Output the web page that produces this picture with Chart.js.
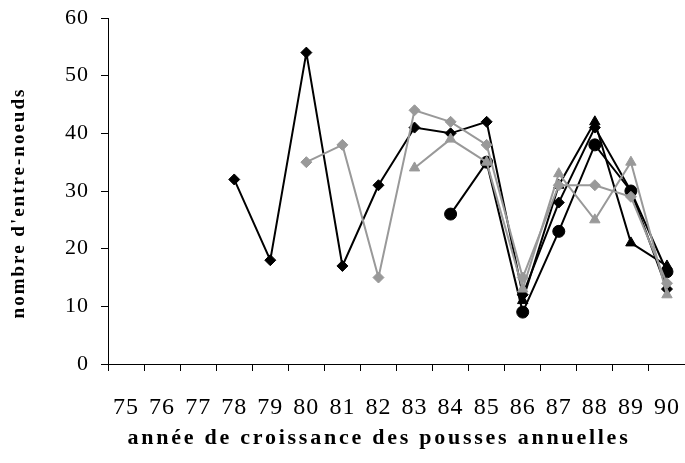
<!DOCTYPE html>
<html>
<head>
<meta charset="utf-8">
<script src="https://cdn.jsdelivr.net/npm/chart.js@4/dist/chart.umd.min.js"></script>
<style>
  html, body { margin: 0; padding: 0; background: #fff; overflow: hidden; }
  #wrap { width: 685px; height: 463px; position: relative; overflow: hidden; }
</style>
</head>
<body>
<div id="wrap"><canvas id="c" width="692" height="463"></canvas></div>
<script>
const years = ['75','76','77','78','79','80','81','82','83','84','85','86','87','88','89','90'];
const blackDiamond = [null,null,null,32,18,54,17,31,41,40,42,12,28,41,30,13];
const grayDiamond  = [null,null,null,null,null,35,38,15,44,42,38,15,31,31,29,14];
const grayTriangle = [null,null,null,null,null,null,null,null,34,39,35,13,33,25,35,12];
const blackCircle  = [null,null,null,null,null,null,null,null,null,26,35,9,23,38,30,16];
const blackTriangle= [null,null,null,null,null,null,null,null,null,null,null,11,31,42,21,17];
const yTicks = [0,10,20,30,40,50,60];
const xTitle = 'année de croissance des pousses annuelles';
const yTitle = "nombre d'entre-noeuds";

const BLACK = '#000000';
const GRAY = '#999999';

function ds(label, data, color, style, radius, order) {
  return {
    label, data,
    borderColor: color, backgroundColor: color,
    pointBackgroundColor: color, pointBorderColor: color,
    borderWidth: 2, pointStyle: style, pointRadius: radius, pointHoverRadius: radius,
    pointBorderWidth: 1, tension: 0, spanGaps: false, order
  };
}

const titlesPlugin = {
  id: 'titles',
  beforeDraw(chart) { chart.ctx.letterSpacing = '1px'; },
  afterDraw(chart) {
    const ctx = chart.ctx;
    ctx.save();
    ctx.fillStyle = '#000';
    ctx.font = 'bold 22px "Liberation Serif"';
    ctx.letterSpacing = '2.75px';
    ctx.textAlign = 'center';
    ctx.textBaseline = 'middle';
    ctx.fillText(xTitle, 379, 438);
    ctx.translate(19, 203);
    ctx.rotate(-Math.PI / 2);
    ctx.font = 'bold 19px "Liberation Serif"';
    ctx.letterSpacing = '2px';
    ctx.fillText(yTitle, 0, 0);
    ctx.restore();
    ctx.letterSpacing = '0px';
  }
};

new Chart(document.getElementById('c'), {
  type: 'line',
  data: {
    labels: years,
    datasets: [
      ds('s1', blackDiamond, BLACK, 'rectRot', 5.5, 3),
      ds('s2', grayDiamond, GRAY, 'rectRot', 5.5, 2),
      ds('s3', grayTriangle, GRAY, 'triangle', 6, 1),
      ds('s4', blackCircle, BLACK, 'circle', 6, 4),
      ds('s5', blackTriangle, BLACK, 'triangle', 6, 5)
    ]
  },
  options: {
    responsive: false,
    animation: false,
    events: [],
    clip: false,
    layout: { padding: { top: 18, right: 0, left: 0, bottom: 0 } },
    plugins: { legend: { display: false }, tooltip: { enabled: false }, title: { display: false } },
    scales: {
      x: {
        type: 'category',
        offset: true,
        grid: { offset: true, drawOnChartArea: false, drawTicks: true, tickLength: 7, color: BLACK, lineWidth: 1 },
        border: { display: true, color: BLACK, width: 1 },
        ticks: { color: BLACK, font: { family: 'Liberation Serif', size: 24 }, padding: 22, maxRotation: 0, autoSkip: false },
        afterFit(scale) { scale.height = 99; scale.paddingLeft = 0; scale.paddingRight = 0; }
      },
      y: {
        min: 0, max: 60,
        afterBuildTicks(scale) { scale.ticks = yTicks.map(v => ({ value: v })); },
        grid: { drawOnChartArea: false, drawTicks: true, tickLength: 7, color: BLACK, lineWidth: 1 },
        border: { display: true, color: BLACK, width: 1 },
        ticks: { color: BLACK, font: { family: 'Liberation Serif', size: 22 }, padding: 12 },
        afterFit(scale) { scale.width = 108; scale.paddingTop = 0; scale.paddingBottom = 0; }
      }
    }
  },
  plugins: [titlesPlugin]
});
</script>
</body>
</html>
